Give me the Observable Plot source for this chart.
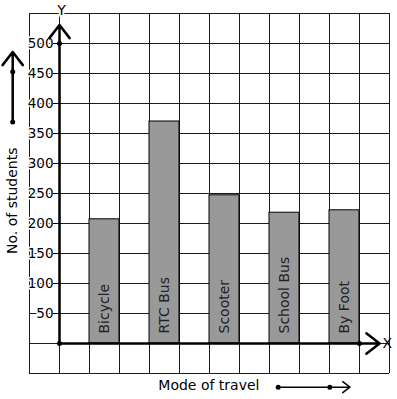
<!DOCTYPE html>
<html>
<head>
<meta charset="utf-8">
<script src="https://cdn.jsdelivr.net/npm/d3@7"></script>
<script src="https://cdn.jsdelivr.net/npm/@observablehq/plot@0.6"></script>
<style>
  html, body { margin: 0; padding: 0; background: #fff; }
  #chart svg { display: block; }
</style>
</head>
<body>
<div id="chart"></div>
<script>
// Data
const categories = ["Bicycle", "RTC Bus", "Scooter", "School Bus", "By Foot"];
const values = [207, 370, 247, 218, 222];
const yTickValues = [50, 100, 150, 200, 250, 300, 350, 400, 450, 500];
const xLabel = "Mode of travel";
const yLabel = "No. of students";

const data = categories.map((c, i) => ({ category: c, value: values[i], slot: 2 * i + 1 }));

const font = "'DejaVu Sans', sans-serif";

const chart = Plot.plot({
  width: 397,
  height: 399,
  marginTop: 13,
  marginBottom: 26,
  marginLeft: 29,
  marginRight: 8,
  x: { domain: [-1, 11], axis: null },
  y: { domain: [-50, 550], axis: null },
  style: { fontFamily: font, fontSize: "14px", background: "#fff", color: "#000" },
  marks: [
    // grid
    Plot.ruleX(d3.range(-1, 12), { stroke: "#1a1a1a", strokeWidth: 1 }),
    Plot.ruleY(d3.range(-50, 551, 50), { stroke: "#1a1a1a", strokeWidth: 1 }),
    // bars
    Plot.rect(data, { x1: "slot", x2: d => d.slot + 1, y1: 0, y2: "value", fill: "#999999", stroke: "#000", strokeWidth: 1 }),
    // bar labels
    Plot.text(data, { x: d => d.slot + 0.5, y: 0, text: "category", rotate: -90, textAnchor: "start", dy: -10, fill: "#222", fontSize: 14 }),
    // y tick labels with white halo
    Plot.text(yTickValues, { x: 0, y: d => d, text: d => String(d), textAnchor: "end", dx: -6, fill: "#000", stroke: "#fff", strokeWidth: 3, paintOrder: "stroke", fontSize: 13.5 }),
    Plot.ruleY(yTickValues, { y: d => d, x1: -0.2, x2: 0, stroke: "#000", strokeWidth: 1 }),
    // axes
    Plot.arrow([{ x1: 0, y1: 0, x2: 0, y2: 531 }], { x1: "x1", y1: "y1", x2: "x2", y2: "y2", stroke: "#000", strokeWidth: 2.5, headLength: 10, headAngle: 75 }),
    Plot.arrow([{ x1: 0, y1: 0, x2: 10.67, y2: 0 }], { x1: "x1", y1: "y1", x2: "x2", y2: "y2", stroke: "#000", strokeWidth: 2.5, headLength: 10, headAngle: 75 }),
    Plot.dot([[0, 0], [0, 500], [10, 0]], { x: d => d[0], y: d => d[1], r: 2.5, fill: "#000" }),
    Plot.text(["Y"], { x: 0.07, y: 555, text: d => d, fill: "#000", stroke: "#fff", strokeWidth: 4, paintOrder: "stroke", fontSize: 14 }),
    Plot.text(["X"], { x: 10.93, y: 0, text: d => d, fill: "#000", fontSize: 14 }),
    // y label and decorative arrow
    Plot.text([yLabel], { x: -1.57, y: 238, text: d => d, rotate: -90, fill: "#000", fontSize: 14 }),
    Plot.arrow([{ x1: -1.56, y1: 369, x2: -1.56, y2: 486 }], { x1: "x1", y1: "y1", x2: "x2", y2: "y2", stroke: "#000", strokeWidth: 2.5, headLength: 10, headAngle: 75 }),
    Plot.dot([[-1.56, 369], [-1.56, 453]], { x: d => d[0], y: d => d[1], r: 2.5, fill: "#000" }),
    // x label and decorative arrow
    Plot.text([xLabel], { x: 4.98, y: -70, text: d => d, fill: "#000", fontSize: 14 }),
    Plot.arrow([{ x1: 7.29, y1: -72.8, x2: 9.68, y2: -72.8 }], { x1: "x1", y1: "y1", x2: "x2", y2: "y2", stroke: "#000", strokeWidth: 1.5, headLength: 9, headAngle: 75 }),
    Plot.dot([[7.29, -72.8], [9.01, -72.8]], { x: d => d[0], y: d => d[1], r: 2.5, fill: "#000" })
  ]
});

document.getElementById("chart").appendChild(chart);
</script>
</body>
</html>
